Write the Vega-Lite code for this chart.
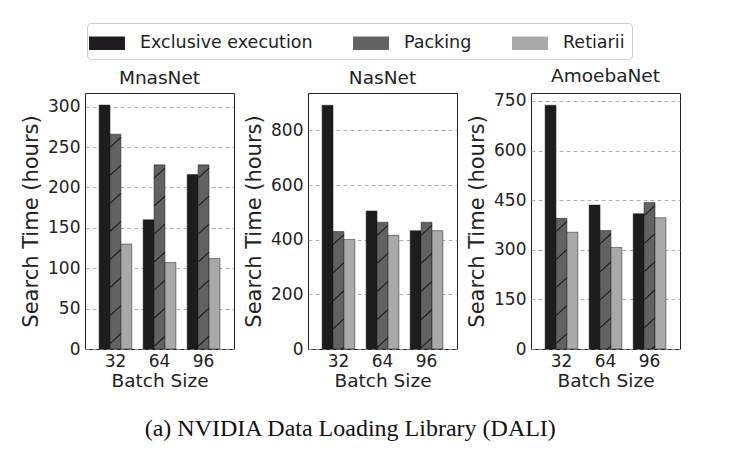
{
  "$schema": "https://vega.github.io/schema/vega-lite/v6.json",
  "padding": {"left": 20, "top": 22, "right": 5, "bottom": 5},
  "background": "white",
  "data": {
    "values": [
      {"model": "MnasNet", "batch": "32", "method": "Exclusive execution", "value": 302},
      {"model": "MnasNet", "batch": "32", "method": "Packing", "value": 266},
      {"model": "MnasNet", "batch": "32", "method": "Retiarii", "value": 130},
      {"model": "MnasNet", "batch": "64", "method": "Exclusive execution", "value": 160},
      {"model": "MnasNet", "batch": "64", "method": "Packing", "value": 228},
      {"model": "MnasNet", "batch": "64", "method": "Retiarii", "value": 107},
      {"model": "MnasNet", "batch": "96", "method": "Exclusive execution", "value": 216},
      {"model": "MnasNet", "batch": "96", "method": "Packing", "value": 228},
      {"model": "MnasNet", "batch": "96", "method": "Retiarii", "value": 112},
      {"model": "NasNet", "batch": "32", "method": "Exclusive execution", "value": 892},
      {"model": "NasNet", "batch": "32", "method": "Packing", "value": 430},
      {"model": "NasNet", "batch": "32", "method": "Retiarii", "value": 401},
      {"model": "NasNet", "batch": "64", "method": "Exclusive execution", "value": 505},
      {"model": "NasNet", "batch": "64", "method": "Packing", "value": 464},
      {"model": "NasNet", "batch": "64", "method": "Retiarii", "value": 416},
      {"model": "NasNet", "batch": "96", "method": "Exclusive execution", "value": 433},
      {"model": "NasNet", "batch": "96", "method": "Packing", "value": 464},
      {"model": "NasNet", "batch": "96", "method": "Retiarii", "value": 433},
      {"model": "AmoebaNet", "batch": "32", "method": "Exclusive execution", "value": 737},
      {"model": "AmoebaNet", "batch": "32", "method": "Packing", "value": 395},
      {"model": "AmoebaNet", "batch": "32", "method": "Retiarii", "value": 353},
      {"model": "AmoebaNet", "batch": "64", "method": "Exclusive execution", "value": 435},
      {"model": "AmoebaNet", "batch": "64", "method": "Packing", "value": 358},
      {"model": "AmoebaNet", "batch": "64", "method": "Retiarii", "value": 307},
      {"model": "AmoebaNet", "batch": "96", "method": "Exclusive execution", "value": 409},
      {"model": "AmoebaNet", "batch": "96", "method": "Packing", "value": 443},
      {"model": "AmoebaNet", "batch": "96", "method": "Retiarii", "value": 397}
    ]
  },
  "title": {
    "text": "(a)  NVIDIA Data Loading Library (DALI)",
    "orient": "bottom",
    "anchor": "middle",
    "font": "Liberation Serif",
    "fontSize": 24,
    "fontWeight": "normal",
    "color": "#111",
    "offset": 27
  },
  "spacing": 8,
  "hconcat": [
    {
      "title": {"text": "MnasNet", "fontSize": 18.5, "fontWeight": "normal", "color": "#222", "offset": 6},
      "width": 149,
      "height": 256,
      "transform": [{"filter": "datum.model === 'MnasNet'"}],
      "encoding": {
        "x": {"field": "batch", "type": "ordinal", "title": "Batch Size", "scale": {"paddingInner": 0.257, "paddingOuter": 0.32},
              "axis": {"labelAngle": 0, "labelFontSize": 17, "labelColor": "#222", "titleFontSize": 18.5, "titleFontWeight": "normal", "titleColor": "#222", "ticks": false, "domain": false, "grid": false, "labelPadding": 4, "titlePadding": 2}},
        "xOffset": {"field": "method", "sort": ["Exclusive execution", "Packing", "Retiarii"]},
        "y": {"field": "value", "type": "quantitative", "title": "Search Time (hours)", "scale": {"domain": [0, 317], "nice": false}, "axis": {"values": [0, 50, 100, 150, 200, 250, 300]}}
      },
      "layer": [
        {
          "mark": {"type": "bar", "stroke": "#1a1a1a", "strokeWidth": 0.5},
          "encoding": {"color": {"field": "method", "type": "nominal", "title": null}}
        },
        {
          "transform": [{"filter": "datum.method === 'Packing'"}],
          "mark": {"type": "point", "clip": true, "filled": false, "opacity": 1, "stroke": "#1a1a1a", "strokeWidth": 1.1, "size": 119,
                   "shape": "M-1,2.42L1,0.58M-1,7.56L1,5.72M-1,12.7L1,10.86M-1,17.84L1,16M-1,22.98L1,21.14M-1,28.12L1,26.28M-1,33.26L1,31.42M-1,38.4L1,36.56M-1,43.54L1,41.7M-1,48.68L1,46.84"}
        }
      ]
    },
    {
      "title": {"text": "NasNet", "fontSize": 18.5, "fontWeight": "normal", "color": "#222", "offset": 6},
      "width": 149,
      "height": 256,
      "transform": [{"filter": "datum.model === 'NasNet'"}],
      "encoding": {
        "x": {"field": "batch", "type": "ordinal", "title": "Batch Size", "scale": {"paddingInner": 0.257, "paddingOuter": 0.32},
              "axis": {"labelAngle": 0, "labelFontSize": 17, "labelColor": "#222", "titleFontSize": 18.5, "titleFontWeight": "normal", "titleColor": "#222", "ticks": false, "domain": false, "grid": false, "labelPadding": 4, "titlePadding": 2}},
        "xOffset": {"field": "method", "sort": ["Exclusive execution", "Packing", "Retiarii"]},
        "y": {"field": "value", "type": "quantitative", "title": "Search Time (hours)", "scale": {"domain": [0, 937], "nice": false}, "axis": {"values": [0, 200, 400, 600, 800]}}
      },
      "layer": [
        {
          "mark": {"type": "bar", "stroke": "#1a1a1a", "strokeWidth": 0.5},
          "encoding": {"color": {"field": "method", "type": "nominal", "title": null}}
        },
        {
          "transform": [{"filter": "datum.method === 'Packing'"}],
          "mark": {"type": "point", "clip": true, "filled": false, "opacity": 1, "stroke": "#1a1a1a", "strokeWidth": 1.1, "size": 119,
                   "shape": "M-1,2.42L1,0.58M-1,7.56L1,5.72M-1,12.7L1,10.86M-1,17.84L1,16M-1,22.98L1,21.14M-1,28.12L1,26.28M-1,33.26L1,31.42M-1,38.4L1,36.56M-1,43.54L1,41.7M-1,48.68L1,46.84"}
        }
      ]
    },
    {
      "title": {"text": "AmoebaNet", "fontSize": 18.5, "fontWeight": "normal", "color": "#222", "offset": 6},
      "width": 149,
      "height": 256,
      "transform": [{"filter": "datum.model === 'AmoebaNet'"}],
      "encoding": {
        "x": {"field": "batch", "type": "ordinal", "title": "Batch Size", "scale": {"paddingInner": 0.257, "paddingOuter": 0.32},
              "axis": {"labelAngle": 0, "labelFontSize": 17, "labelColor": "#222", "titleFontSize": 18.5, "titleFontWeight": "normal", "titleColor": "#222", "ticks": false, "domain": false, "grid": false, "labelPadding": 4, "titlePadding": 2}},
        "xOffset": {"field": "method", "sort": ["Exclusive execution", "Packing", "Retiarii"]},
        "y": {"field": "value", "type": "quantitative", "title": "Search Time (hours)", "scale": {"domain": [0, 774], "nice": false}, "axis": {"values": [0, 150, 300, 450, 600, 750]}}
      },
      "layer": [
        {
          "mark": {"type": "bar", "stroke": "#1a1a1a", "strokeWidth": 0.5},
          "encoding": {"color": {"field": "method", "type": "nominal", "title": null}}
        },
        {
          "transform": [{"filter": "datum.method === 'Packing'"}],
          "mark": {"type": "point", "clip": true, "filled": false, "opacity": 1, "stroke": "#1a1a1a", "strokeWidth": 1.1, "size": 119,
                   "shape": "M-1,2.42L1,0.58M-1,7.56L1,5.72M-1,12.7L1,10.86M-1,17.84L1,16M-1,22.98L1,21.14M-1,28.12L1,26.28M-1,33.26L1,31.42M-1,38.4L1,36.56M-1,43.54L1,41.7M-1,48.68L1,46.84"}
        }
      ]
    }
  ],
  "resolve": {"scale": {"y": "independent", "color": "shared"}},
  "config": {
    "font": "DejaVu Sans",
    "view": {"stroke": "#222", "strokeWidth": 1},
    "scale": {"bandWithNestedOffsetPaddingInner": 0, "bandWithNestedOffsetPaddingOuter": 0},
    "range": {"category": ["#1e1c1e", "#626262", "#a9a9a9"]},
    "axisY": {"labelFontSize": 17, "labelColor": "#222", "titleFontSize": 21, "titleFontWeight": "normal", "titleColor": "#222", "ticks": false, "domain": false, "grid": true, "gridDash": [4, 3], "gridColor": "#999", "gridWidth": 0.8, "labelPadding": 5, "titlePadding": 6},
    "legend": {
      "orient": "none",
      "legendX": 2,
      "legendY": -70,
      "direction": "horizontal",
      "columns": 3,
      "labelFontSize": 17.5,
      "labelLimit": 300,
      "labelColor": "#222",
      "symbolType": "M-1.4,-0.52H1.4V0.52H-1.4Z",
      "symbolSize": 660,
      "symbolStrokeWidth": 0,
      "symbolOpacity": 1,
      "strokeColor": "#ccc",
      "fillColor": "white",
      "cornerRadius": 4,
      "padding": 7,
      "columnPadding": 40,
      "labelOffset": 20
    }
  }
}
